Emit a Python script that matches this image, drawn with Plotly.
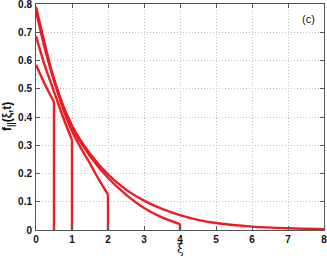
import plotly.graph_objects as go

# Curves f_||(xi, t), each truncated at its front (vertical drop to zero)
xi_a = [0, 0.25, 0.5]
f_a = [0.585, 0.515, 0.453]

xi_b = [0, 0.25, 0.5, 0.75, 1.0]
f_b = [0.686, 0.58, 0.49, 0.40, 0.318]

xi_c = [0, 0.25, 0.5, 0.75, 1.0, 1.25, 1.5, 1.75, 2.0]
f_c = [0.775, 0.64, 0.53, 0.43, 0.35, 0.29, 0.235, 0.178, 0.125]

xi_d = [0, 0.5, 1.0, 1.5, 2.0, 2.5, 3.0, 3.5, 4.0]
f_d = [0.79, 0.535, 0.365, 0.262, 0.185, 0.125, 0.078, 0.045, 0.021]

xi_e = [0, 0.5, 1.0, 1.5, 2.0, 2.5, 3.0, 3.5, 4.0, 4.5, 5.0, 6.0, 7.0, 8.0]
f_e = [0.785, 0.53, 0.37, 0.27, 0.197, 0.143, 0.104, 0.075, 0.053, 0.036, 0.025, 0.012, 0.006, 0.003]

x_ticks = [0, 1, 2, 3, 4, 5, 6, 7, 8]
y_ticks = [0, 0.1, 0.2, 0.3, 0.4, 0.5, 0.6, 0.7, 0.8]
y_tick_labels = ["0", "0.1", "0.2", "0.3", "0.4", "0.5", "0.6", "0.7", "0.8"]

RED = "#ec1c24"
LW = 2.4
FONT = "Liberation Sans, Arial, sans-serif"

fig = go.Figure()
for xs, fs, truncated in [(xi_a, f_a, True), (xi_b, f_b, True), (xi_c, f_c, True),
                          (xi_d, f_d, True), (xi_e, f_e, False)]:
    fig.add_trace(go.Scatter(x=xs, y=fs, mode="lines",
                             line=dict(color=RED, width=LW, shape="spline", smoothing=0.8),
                             showlegend=False, hoverinfo="skip"))
    if truncated:
        fig.add_trace(go.Scatter(x=[xs[-1], xs[-1]], y=[fs[-1], 0], mode="lines",
                                 line=dict(color=RED, width=LW),
                                 showlegend=False, hoverinfo="skip"))

axis_common = dict(
    showline=True, linecolor="#555555", linewidth=1, mirror="ticks",
    ticks="inside", ticklen=4, tickcolor="#555555",
    showgrid=True, gridcolor="#c4c4c4", griddash="1px,2px", gridwidth=1,
    zeroline=False, automargin=False, ticklabeloverflow="allow",
    tickfont=dict(family=FONT, size=10, color="#111111", weight="bold"),
)

fig.update_xaxes(range=[0, 8.0001], tickvals=x_ticks, ticktext=[str(v) for v in x_ticks],
                 ticklabelstandoff=0, **axis_common)
fig.update_yaxes(range=[0, 0.80001], tickvals=y_ticks, ticktext=y_tick_labels,
                 ticklabelstandoff=1, **axis_common)

PLOT_H = 256 - 4 - 26
PLOT_W = 327 - 36 - 3

# x label
fig.add_annotation(text="ξ", xref="paper", yref="paper", x=0.5, y=-11 / PLOT_H,
                   xanchor="center", yanchor="top", showarrow=False, borderpad=0,
                   font=dict(family="DejaVu Serif, serif", size=12, color="#111111"))
# y label
fig.add_annotation(text="<b>f<sub>||</sub>(ξ,t)</b>", xref="paper", yref="paper",
                   x=-28 / PLOT_W, y=0.5, xanchor="center", yanchor="middle",
                   textangle=-90, showarrow=False,
                   font=dict(family=FONT, size=12, color="#111111"))
# panel label
fig.add_annotation(text="(c)", xref="paper", yref="paper", x=0.945, y=0.935,
                   xanchor="center", yanchor="middle", showarrow=False,
                   font=dict(family=FONT, size=11, color="#111111"))

fig.update_layout(
    width=327, height=256,
    margin=dict(l=36, r=3, t=4, b=26),
    paper_bgcolor="white", plot_bgcolor="white",
)

fig.write_html("out.html", config={"displayModeBar": False},
               post_script="document.body.style.margin='0';document.body.style.padding='0';document.body.style.overflow='hidden';")
